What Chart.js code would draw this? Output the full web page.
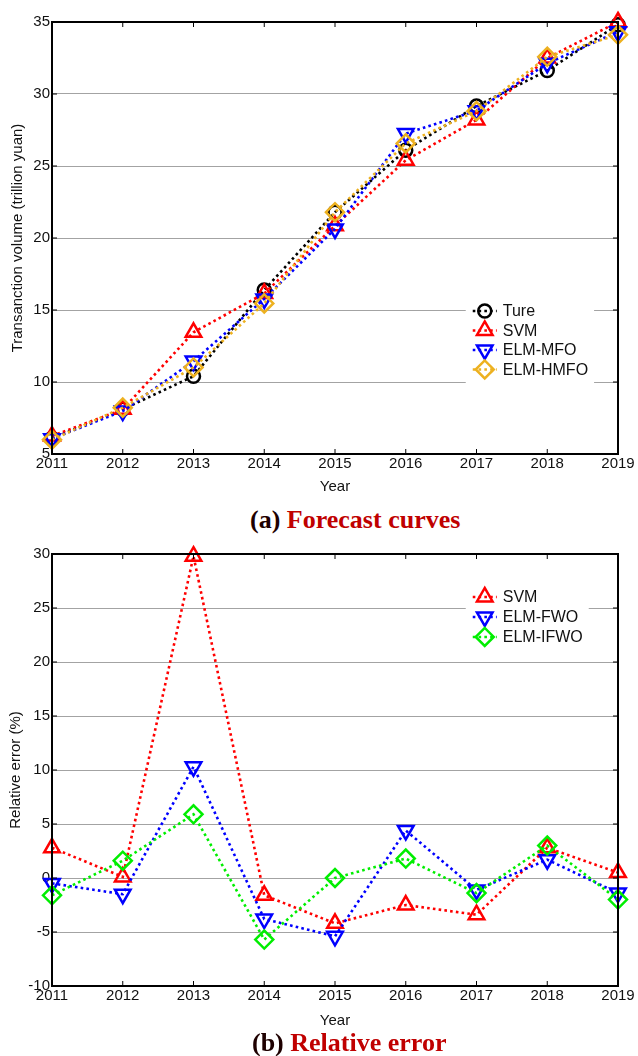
<!DOCTYPE html>
<html>
<head>
<meta charset="utf-8">
<script src="https://cdn.jsdelivr.net/npm/chart.js@4/dist/chart.umd.min.js"></script>
<style>
  html, body { margin: 0; padding: 0; background: #fff; }
  body { width: 638px; height: 1056px; position: relative; overflow: hidden; }
  .box { position: absolute; left: 0; width: 638px; height: 500px; }
  .cap { position: absolute; font-family: "Liberation Serif", "Times New Roman", serif; font-weight: bold;
         font-size: 26px; line-height: 30px; white-space: nowrap; }
  .cap .tag { color: #1e0000; }
  .cap .txt { color: #c00000; }
</style>
</head>
<body>
<div class="box" style="top:0"><canvas id="forecast"></canvas></div>
<div class="cap" style="left:250px; top:505px"><span class="tag">(a)</span> <span class="txt">Forecast curves</span></div>
<div class="box" style="top:532px"><canvas id="error"></canvas></div>
<div class="cap" style="left:252px; top:1028px"><span class="tag">(b)</span> <span class="txt">Relative error</span></div>
<script>
// years on the x axis
const years = ['2011', '2012', '2013', '2014', '2015', '2016', '2017', '2018', '2019'];

// (a) transaction volume, trillion yuan
const ture    = [6.09, 8.10, 10.40, 16.39, 21.79, 26.10, 29.16, 31.63, 34.81];
const svm     = [6.25, 8.10, 13.45, 16.15, 20.85, 25.40, 28.20, 32.50, 35.00];
const elmMfo  = [6.06, 7.98, 11.45, 15.77, 20.63, 27.25, 28.84, 32.13, 34.32];
const elmHmfo = [5.99, 8.22, 11.01, 15.46, 21.79, 26.57, 28.81, 32.58, 34.11];

// (b) relative error, %
const errSvm  = [2.8, 0.1, 29.8, -1.6, -4.2, -2.5, -3.4, 2.8, 0.5];
const errFwo  = [-0.5, -1.5, 10.3, -3.8, -5.4, 4.4, -1.1, 1.7, -1.4];
const errIfwo = [-1.6, 1.6, 5.9, -5.7, 0.0, 1.8, -1.4, 3.0, -2.0];

const family = '"Liberation Sans", Arial, sans-serif';
const ink = '#111';

function series(label, data, color, style, rot, order) {
  return {
    label, data,
    borderColor: color,
    borderWidth: 2.6,
    borderDash: [2.6, 3.2],
    tension: 0,
    pointStyle: style,
    pointRotation: rot,
    pointRadius: style === 'circle' ? 6.5 : 9,
    pointBorderWidth: 2.5,
    pointBorderColor: color,
    pointBackgroundColor: 'rgba(0,0,0,0)',
    clip: false,
    order
  };
}

// box round the plot with inward tick marks
const frame = {
  id: 'frame',
  afterDraw(chart) {
    const {ctx, chartArea: a, scales: {x, y}} = chart;
    ctx.save();
    ctx.strokeStyle = '#000';
    ctx.lineWidth = 1;
    ctx.beginPath();
    x.ticks.forEach((t, i) => {
      const px = x.getPixelForTick(i);
      ctx.moveTo(px, a.bottom); ctx.lineTo(px, a.bottom - 5);
      ctx.moveTo(px, a.top); ctx.lineTo(px, a.top + 5);
    });
    y.ticks.forEach((t, i) => {
      const py = y.getPixelForTick(i);
      ctx.moveTo(a.left, py); ctx.lineTo(a.left + 5, py);
      ctx.moveTo(a.right, py); ctx.lineTo(a.right - 5, py);
    });
    ctx.stroke();
    ctx.lineWidth = 2;
    ctx.strokeRect(a.left, a.top, a.width, a.height);
    ctx.restore();
  }
};

// legend drawn inside the plot, like the original figure
const innerLegend = {
  id: 'innerLegend',
  afterDraw(chart, args, opts) {
    const {ctx, chartArea: a} = chart;
    const sets = chart.data.datasets;
    const rowH = opts.rowH;
    const bx = a.left + opts.x * a.width;
    const by = a.top + opts.y * a.height;
    ctx.save();
    ctx.font = '16px ' + family;
    let tw = 0;
    sets.forEach(d => { tw = Math.max(tw, ctx.measureText(d.label).width); });
    ctx.fillStyle = '#fff';
    ctx.fillRect(bx, by, 37 + tw + 6, sets.length * rowH + 8);
    sets.forEach((d, i) => {
      const cy = by + 4 + rowH * (i + 0.5);
      ctx.strokeStyle = d.borderColor;
      ctx.lineWidth = d.borderWidth;
      ctx.setLineDash(d.borderDash);
      ctx.beginPath();
      ctx.moveTo(bx + 7, cy); ctx.lineTo(bx + 31, cy);
      ctx.stroke();
      ctx.setLineDash([]);
      if (Chart.helpers && Chart.helpers.drawPoint) {
        ctx.fillStyle = 'rgba(0,0,0,0)';
        ctx.lineWidth = d.pointBorderWidth;
        Chart.helpers.drawPoint(ctx, {
          pointStyle: d.pointStyle, rotation: d.pointRotation || 0,
          radius: d.pointRadius, borderWidth: d.pointBorderWidth
        }, bx + 19, cy);
      }
      ctx.fillStyle = ink;
      ctx.textBaseline = 'middle';
      ctx.textAlign = 'left';
      ctx.fillText(d.label, bx + 37, cy + 1);
    });
    ctx.restore();
  }
};

function options(yMin, yMax, yTitle, yTitlePad, xTitlePad, legendPos) {
  return {
    responsive: true,
    maintainAspectRatio: false,
    animation: false,
    layout: {padding: {top: 22, right: 20, left: 0, bottom: 0}},
    plugins: {
      legend: {display: false},
      tooltip: {enabled: false},
      innerLegend: legendPos
    },
    scales: {
      x: {
        type: 'category',
        offset: false,
        grid: {display: false, drawTicks: false},
        border: {display: false},
        ticks: {color: ink, font: {size: 15, family}, padding: 1, maxRotation: 0, autoSkip: false},
        title: {display: true, text: 'Year', color: ink, font: {size: 15, family}, padding: {top: 0, bottom: xTitlePad}},
        afterFit: s => { s.height = 46; }
      },
      y: {
        min: yMin, max: yMax,
        grid: {color: '#a3a3a3', lineWidth: 1, drawTicks: false},
        border: {display: false},
        ticks: {stepSize: 5, color: ink, font: {size: 15, family}, padding: 2},
        title: {display: true, text: yTitle, color: ink, font: {size: 15, family}, padding: {top: yTitlePad, bottom: 0}},
        afterFit: s => { s.width = 52; }
      }
    }
  };
}

new Chart(document.getElementById('forecast'), {
  type: 'line',
  data: {
    labels: years,
    datasets: [
      series('Ture', ture, '#000000', 'circle', 0, 4),
      series('SVM', svm, '#ff0000', 'triangle', 0, 3),
      series('ELM-MFO', elmMfo, '#0000ff', 'triangle', 180, 2),
      series('ELM-HMFO', elmHmfo, '#edb120', 'rectRot', 0, 1)
    ]
  },
  options: options(5, 35, 'Transanction volume (trillion yuan)', 9, 4, {x: 0.731, y: 0.637, rowH: 19.5}),
  plugins: [frame, innerLegend]
});

new Chart(document.getElementById('error'), {
  type: 'line',
  data: {
    labels: years,
    datasets: [
      series('SVM', errSvm, '#ff0000', 'triangle', 0, 3),
      series('ELM-FWO', errFwo, '#0000ff', 'triangle', 180, 2),
      series('ELM-IFWO', errIfwo, '#00ee00', 'rectRot', 0, 1)
    ]
  },
  options: options(-10, 30, 'Relative error (%)', 7, 2, {x: 0.731, y: 0.067, rowH: 20}),
  plugins: [frame, innerLegend]
});
</script>
</body>
</html>
